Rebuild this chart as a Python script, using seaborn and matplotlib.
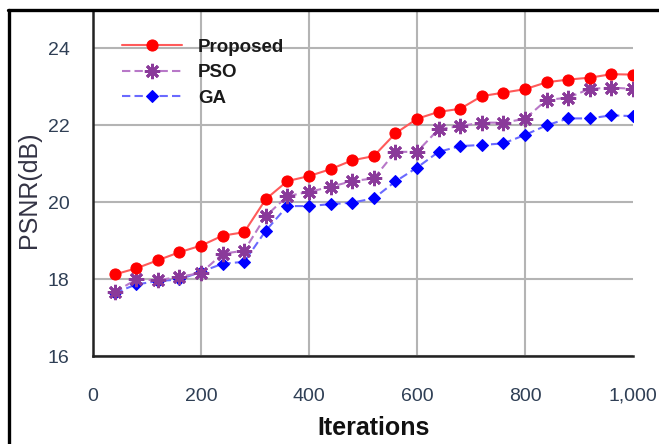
import matplotlib
matplotlib.use('Agg')
import matplotlib.pyplot as plt
from matplotlib.lines import Line2D
from matplotlib.ticker import FuncFormatter, MultipleLocator
import numpy as np
import pandas as pd
import seaborn as sns

# 데이터
iterations = [40, 80, 120, 160, 200, 240, 280, 320, 360, 400, 440, 480, 520,
              560, 600, 640, 680, 720, 760, 800, 840, 880, 920, 960, 1000]
proposed = [18.12, 18.28, 18.49, 18.70, 18.87, 19.13, 19.22, 20.08, 20.55, 20.68,
            20.86, 21.09, 21.20, 21.79, 22.17, 22.35, 22.43, 22.76, 22.85, 22.94,
            23.12, 23.19, 23.24, 23.33, 23.32]
pso = [17.66, 17.99, 17.97, 18.06, 18.16, 18.66, 18.74, 19.64, 20.16, 20.27,
       20.40, 20.55, 20.62, 21.31, 21.31, 21.90, 21.98, 22.07, 22.07, 22.17,
       22.66, 22.72, 22.95, 22.98, 22.95]
ga = [17.64, 17.86, 17.95, 17.99, 18.19, 18.40, 18.45, 19.26, 19.90, 19.90,
      19.95, 19.99, 20.10, 20.54, 20.90, 21.31, 21.46, 21.49, 21.53, 21.75,
      22.00, 22.18, 22.18, 22.26, 22.24]

sns.set_style('white')
plt.rcParams['font.family'] = ['Liberation Sans', 'DejaVu Sans']

fig = plt.figure(figsize=(6.59, 4.44), dpi=100)
ax = fig.add_axes([93/659, 1-356/444, 540/659, 346/444])

df = pd.DataFrame({'Iterations': iterations, 'Proposed': proposed, 'PSO': pso, 'GA': ga})

sns.lineplot(data=df, x='Iterations', y='Proposed', ax=ax, label='Proposed',
             color='#ff5a5a', linewidth=1.5, marker='o', markersize=8,
             markerfacecolor='#ff0000', markeredgecolor='#ff0000', zorder=5)
sns.lineplot(data=df, x='Iterations', y='PSO', ax=ax, label='PSO',
             color='#b878c8', linewidth=1.5, linestyle=(0, (4, 2)),
             marker=(8, 2, 0), markersize=11, markeredgewidth=2,
             markerfacecolor='#7a1f8a', markeredgecolor='#8a3a9a', zorder=4)
sns.lineplot(data=df, x='Iterations', y='GA', ax=ax, label='GA',
             color='#6a6aff', linewidth=1.5, linestyle=(0, (4, 2)),
             marker='D', markersize=6, markerfacecolor='#0000ff',
             markeredgecolor='#0000ff', zorder=3)

ax.set_xlim(0, 1000)
ax.set_ylim(16, 25)
ax.set_xticks([0, 200, 400, 600, 800, 1000])
ax.set_yticks([16, 18, 20, 22, 24])
ax.xaxis.set_minor_locator(MultipleLocator(100))
ax.yaxis.set_minor_locator(MultipleLocator(1))
ax.xaxis.set_major_formatter(FuncFormatter(lambda v, p: '{:,.0f}'.format(v)))

tick_col = '#2f3f55'
ax.tick_params(axis='both', which='major', direction='out', length=11, width=1.5,
               color='#222222', labelsize=14, labelcolor=tick_col, pad=6)
ax.tick_params(axis='both', which='minor', direction='out', length=9, width=1.5,
               color='#222222')
ax.tick_params(axis='x', which='major', pad=12)

ax.grid(True, which='major', color='#b4b4b4', linewidth=1.5)
ax.set_axisbelow(True)
ax.xaxis.get_gridlines()[-1].set_visible(False)

for s in ['top', 'right']:
    ax.spines[s].set_visible(False)
for s in ['left', 'bottom']:
    ax.spines[s].set_color('#222222')
    ax.spines[s].set_linewidth(1.8)

ax.set_xlabel('Iterations', fontsize=18, fontweight='bold', color='#111111', labelpad=8)
ax.xaxis.label.set_x(0.52)
ax.set_ylabel('PSNR(dB)', fontsize=18, color='#333344', labelpad=5)
ax.yaxis.label.set_y(0.48)

leg = ax.legend(loc='upper left', bbox_to_anchor=(0.054, 0.917), frameon=False,
                borderaxespad=0, borderpad=0, handlelength=3.2, handletextpad=0.85,
                labelspacing=0.45, prop={'size': 13.5, 'weight': 'bold'})
for t in leg.get_texts():
    t.set_color('#1a1a1a')

# 바깥 테두리
fig.add_artist(Line2D([8/659, 1], [1-10/444, 1-10/444], color='black', linewidth=2.4,
                      transform=fig.transFigure))
fig.add_artist(Line2D([9/659, 9/659], [0, 1-10/444], color='black', linewidth=2.4,
                      transform=fig.transFigure))

fig.savefig('out.png', dpi=100)
